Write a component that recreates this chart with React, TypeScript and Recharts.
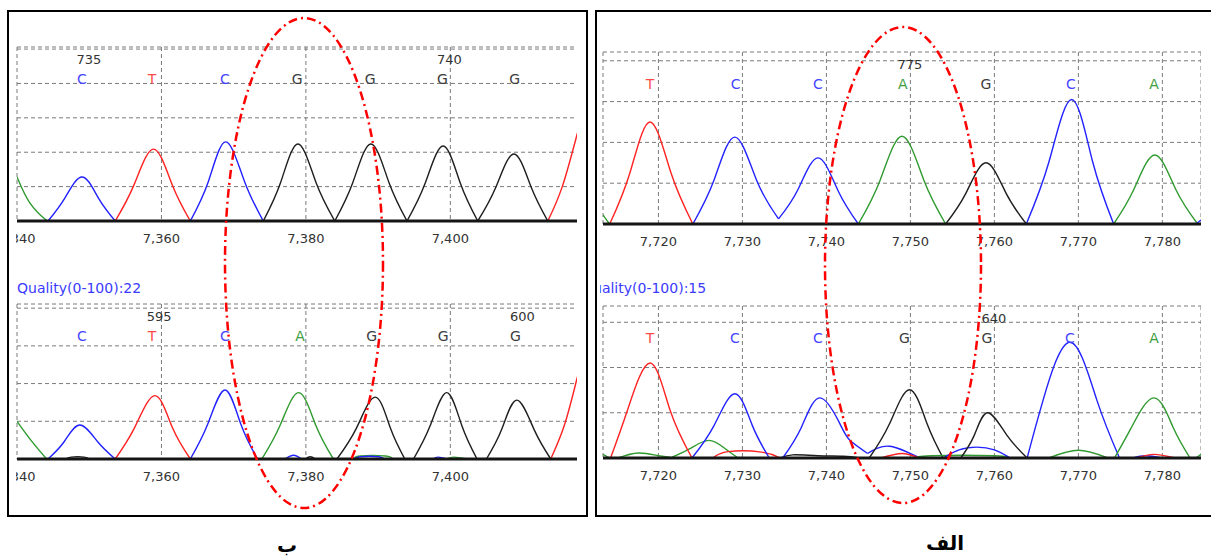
import React from 'react';
import { ComposedChart, Line, Scatter, XAxis, YAxis, CartesianGrid } from 'recharts';

// Base traces.
// Each trace is one peak (or a bit of noise) as [scan position, signal] pairs.
type Trace = { base: string; pts: [number, number][] };
type Call = { pos: number; base: string; num?: number };

// ---- panel ب, upper trace (scan 7340 - 7418)
const LEFT_TOP_TRACES: Trace[] = [
  { base: 'A', pts: [[7340, 1.28], [7341.8, 0.52], [7343.9, 0.05], [7344.3, 0]] },
  { base: 'C', pts: [[7344.3, 0], [7346.6, 0.66], [7349, 1.28], [7351.3, 0.66], [7353.6, 0]] },
  { base: 'T', pts: [[7353.6, 0], [7356.2, 1.05], [7358.9, 2.09], [7361.5, 1.05], [7364, 0]] },
  { base: 'C', pts: [[7364, 0], [7366.5, 1.15], [7368.9, 2.3], [7371.5, 1.15], [7374.1, 0]] },
  { base: 'G', pts: [[7374.1, 0], [7376.5, 1.12], [7378.9, 2.24], [7381.4, 1.12], [7384, 0]] },
  { base: 'G', pts: [[7384, 0], [7386.5, 1.12], [7389, 2.24], [7391.5, 1.12], [7394, 0]] },
  { base: 'G', pts: [[7394, 0], [7396.5, 1.09], [7399, 2.18], [7401.4, 1.09], [7403.8, 0]] },
  { base: 'G', pts: [[7403.8, 0], [7406.3, 0.98], [7408.8, 1.95], [7411.2, 0.98], [7413.5, 0]] },
  { base: 'T', pts: [[7413.5, 0], [7415.5, 1.0], [7417.6, 2.56]] },
];
const LEFT_TOP_CALLS: Call[] = [
  { pos: 7349, base: 'C', num: 735 },
  { pos: 7358.7, base: 'T' },
  { pos: 7368.8, base: 'C' },
  { pos: 7378.8, base: 'G' },
  { pos: 7388.9, base: 'G' },
  { pos: 7398.9, base: 'G', num: 740 },
  { pos: 7408.9, base: 'G' },
];

// ---- panel ب, lower trace
const LEFT_BOTTOM_TRACES: Trace[] = [
  { base: 'A', pts: [[7340, 1.0], [7342, 0.48], [7344.1, 0]] },
  { base: 'C', pts: [[7344.3, 0], [7346.5, 0.45], [7348.7, 0.9], [7351.2, 0.45], [7353.6, 0]] },
  { base: 'G', pts: [[7346.8, 0], [7347.5, 0.05], [7349.3, 0.05], [7350, 0]] },
  { base: 'T', pts: [[7353.6, 0], [7356.3, 0.84], [7359.1, 1.68], [7361.5, 0.84], [7364, 0]] },
  { base: 'C', pts: [[7364, 0], [7366.4, 0.92], [7368.8, 1.83], [7371, 0.92], [7373.3, 0]] },
  { base: 'A', pts: [[7373.9, 0], [7376.4, 0.88], [7379, 1.76], [7381.4, 0.88], [7383.8, 0]] },
  { base: 'C', pts: [[7377.1, 0], [7378.3, 0.1], [7379.4, 0]] },
  { base: 'G', pts: [[7379.9, 0], [7380.6, 0.06], [7381.3, 0]] },
  { base: 'A', pts: [[7386.8, 0], [7387.5, 0.08], [7391, 0.08], [7392, 0]] },
  { base: 'C', pts: [[7386.8, 0], [7387.6, 0.06], [7390, 0.06], [7390.8, 0]] },
  { base: 'G', pts: [[7384.3, 0], [7387, 0.82], [7389.6, 1.64], [7391.7, 0.82], [7393.7, 0]] },
  { base: 'G', pts: [[7394.9, 0], [7397.2, 0.88], [7399.5, 1.76], [7401.6, 0.88], [7403.7, 0]] },
  { base: 'C', pts: [[7397.6, 0], [7398.3, 0.05], [7399.5, 0]] },
  { base: 'A', pts: [[7399.5, 0], [7400.5, 0.05], [7402.3, 0]] },
  { base: 'G', pts: [[7405, 0], [7407.1, 0.78], [7409.2, 1.56], [7411.6, 0.78], [7413.9, 0]] },
  { base: 'T', pts: [[7413.9, 0], [7415.8, 0.9], [7417.6, 2.18]] },
];
const LEFT_BOTTOM_CALLS: Call[] = [
  { pos: 7349, base: 'C' },
  { pos: 7358.7, base: 'T', num: 595 },
  { pos: 7368.8, base: 'C' },
  { pos: 7379.2, base: 'A' },
  { pos: 7389.1, base: 'G' },
  { pos: 7399, base: 'G' },
  { pos: 7409, base: 'G', num: 600 },
];

// ---- panel الف, upper trace (scan 7713 - 7785)
const RIGHT_TOP_TRACES: Trace[] = [
  { base: 'A', pts: [[7713.4, 0.45], [7714, 0.1], [7714.3, 0]] },
  { base: 'T', pts: [[7714.2, 0], [7716.6, 2.5], [7719, 5.0], [7721.5, 2.5], [7724.1, 0]] },
  { base: 'C', pts: [[7724.1, 0], [7726.6, 2.13], [7729.1, 4.26], [7731.7, 2.13], [7734.3, 0.25]] },
  { base: 'C', pts: [[7734.3, 0.25], [7736.6, 1.68], [7739, 3.24], [7741.4, 1.62], [7743.8, 0]] },
  { base: 'A', pts: [[7743.8, 0], [7746.4, 2.15], [7749, 4.3], [7751.6, 2.15], [7754.2, 0]] },
  { base: 'G', pts: [[7754.2, 0], [7756.6, 1.5], [7759, 3.0], [7761.4, 1.5], [7763.8, 0]] },
  { base: 'C', pts: [[7763.8, 0], [7766.5, 3.05], [7769.2, 6.1], [7771.7, 3.05], [7774.2, 0]] },
  { base: 'A', pts: [[7774.2, 0], [7776.6, 1.69], [7779.1, 3.38], [7781.6, 1.69], [7784.2, 0]] },
  { base: 'C', pts: [[7784, 0], [7784.6, 0.2]] },
];
const RIGHT_TOP_CALLS: Call[] = [
  { pos: 7719, base: 'T' },
  { pos: 7729.2, base: 'C' },
  { pos: 7739, base: 'C' },
  { pos: 7749.1, base: 'A', num: 775 },
  { pos: 7759, base: 'G' },
  { pos: 7769.1, base: 'C' },
  { pos: 7779, base: 'A' },
];

// ---- panel الف, lower trace
const RIGHT_BOTTOM_TRACES: Trace[] = [
  { base: 'A', pts: [[7713.4, 0.08], [7714.2, 0]] },
  { base: 'A', pts: [[7715.2, 0], [7717.6, 0.11], [7720, 0.05], [7721.4, 0.02]] },
  { base: 'A', pts: [[7721.4, 0], [7723.7, 0.2], [7726, 0.39], [7728, 0.2], [7729.5, 0]] },
  { base: 'T', pts: [[7714.3, 0], [7716.3, 1.05], [7719, 2.1], [7721.4, 1.05], [7724, 0]] },
  { base: 'T', pts: [[7726.5, 0], [7728.3, 0.14], [7732.3, 0.13], [7734.5, 0]] },
  { base: 'C', pts: [[7724, 0], [7726.6, 0.71], [7729.1, 1.42], [7731.2, 0.71], [7733.2, 0]] },
  { base: 'G', pts: [[7734.5, 0], [7736, 0.07], [7739, 0.05], [7742, 0.04], [7744, 0]] },
  { base: 'C', pts: [[7734.8, 0], [7737, 0.67], [7739.2, 1.33], [7741.6, 0.76], [7742.8, 0.39], [7744.9, 0.1]] },
  { base: 'C', pts: [[7744.9, 0.1], [7747.5, 0.26], [7751.1, 0]] },
  { base: 'T', pts: [[7746.5, 0], [7749, 0.1], [7751, 0]] },
  { base: 'G', pts: [[7745.1, 0], [7747.5, 0.75], [7749.9, 1.51], [7752, 0.75], [7753.9, 0]] },
  { base: 'A', pts: [[7751, 0], [7752.5, 0.05], [7760, 0.05], [7761.5, 0]] },
  { base: 'C', pts: [[7753.9, 0], [7755.8, 0.18], [7757.9, 0.24], [7760, 0.18], [7761.9, 0]] },
  { base: 'G', pts: [[7756, 0], [7757.6, 0.5], [7759.2, 1.0], [7761.5, 0.5], [7763.9, 0]] },
  { base: 'A', pts: [[7766.5, 0], [7770, 0.17], [7773.5, 0]] },
  { base: 'C', pts: [[7763.9, 0], [7765.8, 1.28], [7769, 2.56], [7772.2, 1.28], [7774.9, 0]] },
  { base: 'C', pts: [[7776.5, 0], [7778, 0.05], [7780, 0]] },
  { base: 'T', pts: [[7777, 0], [7779, 0.08], [7781.5, 0]] },
  { base: 'A', pts: [[7774.3, 0], [7776.3, 0.67], [7779, 1.33], [7781.3, 0.67], [7783.3, 0]] },
  { base: 'A', pts: [[7784, 0], [7784.6, 0.08]] },
];
const RIGHT_BOTTOM_CALLS: Call[] = [
  { pos: 7719, base: 'T' },
  { pos: 7729.1, base: 'C' },
  { pos: 7739, base: 'C' },
  { pos: 7749.3, base: 'G' },
  { pos: 7759.1, base: 'G', num: 640 },
  { pos: 7769, base: 'C' },
  { pos: 7779, base: 'A' },
];

const LEFT_TICKS = [7340, 7360, 7380, 7400, 7420];
const RIGHT_TICKS = [7720, 7730, 7740, 7750, 7760, 7770, 7780];

const TRACE_COLORS: Record<string, string> = { A: '#2f9a2f', C: '#2222ff', G: '#1e1e1e', T: '#ff2222' };
const CALL_COLORS: Record<string, string> = { A: '#3e9e3e', C: '#4444ff', G: '#3c3c3c', T: '#ff4a4a' };

const FONT = '"DejaVu Sans", Verdana, sans-serif';
const MARGIN_TOP = 2;
const MARGIN_LEFT = 1;
const AXIS_H = 34;

const fmt = (v: number) => v.toLocaleString('en-US');

const CallMark = (p: any) => {
  const { cx, payload } = p;
  if (cx == null) return null;
  return (
    <g>
      {payload.num != null && (
        <text x={cx + 7} y={MARGIN_TOP + 12} textAnchor="middle" dominantBaseline="central" fontSize={13} fill="#333">
          {payload.num}
        </text>
      )}
      <text x={cx} y={MARGIN_TOP + 32} textAnchor="middle" dominantBaseline="central" fontSize={14} fill={CALL_COLORS[payload.base]}>
        {payload.base}
      </text>
    </g>
  );
};

interface TraceChartProps {
  left: number;
  top: number;
  clipW: number;
  chartW: number;
  plotH: number;
  xDomain: [number, number];
  xTicks: number[];
  yMax: number;
  yTicks: number[];
  traces: Trace[];
  calls: Call[];
}

function TraceChart({ left, top, clipW, chartW, plotH, xDomain, xTicks, yMax, yTicks, traces, calls }: TraceChartProps) {
  const h = MARGIN_TOP + plotH + AXIS_H;
  const callData = calls.map(c => ({ x: c.pos, y: 0, base: c.base, num: c.num }));
  return (
    <div style={{ position: 'absolute', left: left - MARGIN_LEFT, top: top - MARGIN_TOP, width: clipW + MARGIN_LEFT, height: h, overflow: 'hidden' }}>
      <ComposedChart width={chartW + MARGIN_LEFT} height={h} margin={{ top: MARGIN_TOP, right: 0, bottom: 0, left: MARGIN_LEFT }}>
        <CartesianGrid stroke="#7a7a7a" strokeDasharray="4 3" />
        <XAxis
          type="number"
          dataKey="x"
          domain={xDomain}
          ticks={xTicks}
          interval={0}
          allowDataOverflow
          height={AXIS_H}
          tickFormatter={fmt}
          tickLine={false}
          tickSize={0}
          tickMargin={13}
          tick={{ fill: '#333', fontSize: 13, fontFamily: FONT }}
          axisLine={{ stroke: '#151515', strokeWidth: 3 }}
        />
        <XAxis
          xAxisId="top"
          orientation="top"
          type="number"
          domain={xDomain}
          allowDataOverflow
          height={0}
          tick={false}
          tickLine={false}
          axisLine={{ stroke: '#555', strokeWidth: 2 }}
        />
        <YAxis hide type="number" dataKey="y" domain={[0, yMax]} ticks={yTicks} allowDataOverflow />
        {traces.map((t, i) => (
          <Line
            key={i}
            data={t.pts.map(([x, y]) => ({ x, y }))}
            dataKey="y"
            type="natural"
            stroke={TRACE_COLORS[t.base]}
            strokeWidth={1.4}
            dot={false}
            activeDot={false}
            isAnimationActive={false}
          />
        ))}
        <Scatter data={callData} dataKey="y" shape={CallMark} isAnimationActive={false} />
      </ComposedChart>
    </div>
  );
}

export default function App() {
  return (
    <div style={{ position: 'relative', width: 1211, height: 560, overflow: 'hidden', background: '#fff', fontFamily: FONT }}>
      <style>{'body{margin:0}'}</style>

      {/* panel frames */}
      <div style={{ position: 'absolute', left: 7, top: 10, width: 581, height: 507, border: '2px solid #000', boxSizing: 'border-box' }} />
      <div style={{ position: 'absolute', left: 595, top: 10, width: 625, height: 507, border: '2px solid #000', boxSizing: 'border-box' }} />

      <TraceChart left={17} top={47} clipW={560} chartW={585} plotH={174} xDomain={[7340, 7421]} xTicks={LEFT_TICKS}
        yMax={5.06} yTicks={[1, 2, 3, 4, 5]} traces={LEFT_TOP_TRACES} calls={LEFT_TOP_CALLS} />
      <TraceChart left={17} top={304} clipW={560} chartW={585} plotH={155} xDomain={[7340, 7421]} xTicks={LEFT_TICKS}
        yMax={4.11} yTicks={[1, 2, 3, 4]} traces={LEFT_BOTTOM_TRACES} calls={LEFT_BOTTOM_CALLS} />
      <TraceChart left={603} top={52} clipW={598} chartW={598} plotH={172} xDomain={[7713.4, 7784.6]} xTicks={RIGHT_TICKS}
        yMax={8.43} yTicks={[1, 2, 3, 4, 5, 6, 7, 8]} traces={RIGHT_TOP_TRACES} calls={RIGHT_TOP_CALLS} />
      <TraceChart left={603} top={306} clipW={598} chartW={598} plotH={152} xDomain={[7713.4, 7784.6]} xTicks={RIGHT_TICKS}
        yMax={3.36} yTicks={[1, 2, 3]} traces={RIGHT_BOTTOM_TRACES} calls={RIGHT_BOTTOM_CALLS} />

      {/* quality captions */}
      <div style={{ position: 'absolute', left: 17, top: 280, fontSize: 14, lineHeight: '16px', color: '#3a3aff', whiteSpace: 'nowrap' }}>
        Quality(0-100):22
      </div>
      <div style={{ position: 'absolute', left: 600, top: 280, width: 200, height: 18, overflow: 'hidden' }}>
        <div style={{ position: 'absolute', left: -18, top: 0, fontSize: 14, lineHeight: '16px', color: '#3a3aff', whiteSpace: 'nowrap' }}>
          Quality(0-100):15
        </div>
      </div>

      {/* highlighted region */}
      <svg width={1211} height={560} style={{ position: 'absolute', left: 0, top: 0, pointerEvents: 'none' }}>
        <ellipse cx={304} cy={263} rx={79} ry={245} fill="none" stroke="#ff0000" strokeWidth={2.5} strokeDasharray="9 4 2 4" />
        <ellipse cx={903} cy={265} rx={78} ry={238} fill="none" stroke="#ff0000" strokeWidth={2.5} strokeDasharray="9 4 2 4" />
      </svg>

      {/* panel captions */}
      <div dir="rtl" style={{ position: 'absolute', left: 262, top: 533, width: 50, textAlign: 'center', fontSize: 20, fontWeight: 'bold', lineHeight: '24px' }}>
        ب
      </div>
      <div dir="rtl" style={{ position: 'absolute', left: 905, top: 531, width: 80, textAlign: 'center', fontSize: 20, fontWeight: 'bold', lineHeight: '24px' }}>
        الف
      </div>
    </div>
  );
}
